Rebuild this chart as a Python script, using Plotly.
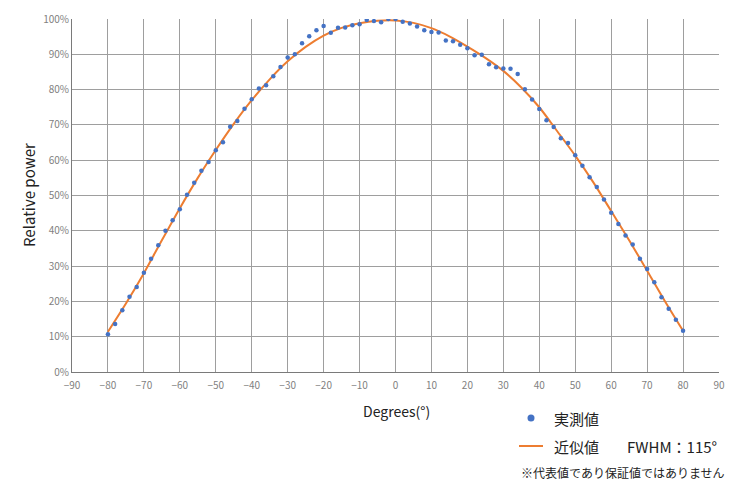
import plotly.graph_objects as go

# measured points (degrees, relative power %)
meas_deg = list(range(-80, 81, 2))
meas_pct = [10.7, 13.6, 17.5, 21.3, 24.1, 28.1, 32.1, 35.9, 40.0, 43.0,
            46.1, 50.2, 53.6, 57.0, 59.5, 62.8, 65.1, 69.5, 71.1, 74.6,
            77.3, 80.3, 81.2, 83.8, 86.4, 89.1, 90.0, 93.1, 95.1, 96.8,
            98.0, 96.1, 97.5, 97.6, 98.2, 98.5, 99.7, 99.4, 99.1, 100.0,
            100.0, 99.2, 98.7, 97.9, 96.8, 96.3, 96.2, 93.9, 93.7, 92.7,
            91.7, 89.7, 89.9, 87.2, 86.3, 86.0, 85.9, 84.4, 80.1, 77.2,
            74.5, 71.3, 69.4, 66.2, 64.9, 61.4, 58.4, 55.2, 52.4, 48.9,
            45.1, 41.9, 38.7, 36.1, 32.1, 29.2, 25.4, 21.2, 17.9, 14.8, 11.7]

# approximation curve (degrees, %)
fit_deg = list(range(-80, 81, 5))
fit_pct = [11.4, 19.4, 28.0, 37.3, 46.4, 55.0, 62.9, 70.3, 77.0, 82.9,
           88.0, 92.1, 95.3, 97.5, 98.8, 99.5, 99.6, 98.9, 97.4, 95.1,
           92.2, 89.0, 85.3, 80.6, 75.0, 68.2, 61.3, 53.8, 45.6, 37.3,
           28.7, 20.0, 11.7]

x_ticks = list(range(-90, 91, 10))
y_ticks = list(range(0, 101, 10))
y_tick_labels = [f"{v}%" for v in y_ticks]

BLUE = "#4472C4"
ORANGE = "#ED7D31"
GRID = "#9e9e9e"
FONT = "Noto Sans CJK JP"

fig = go.Figure()
fig.add_trace(go.Scatter(x=fit_deg, y=fit_pct, mode="lines",
                         line=dict(color=ORANGE, width=2, shape="spline", smoothing=0.8),
                         name="近似値", hoverinfo="skip"))
fig.add_trace(go.Scatter(x=meas_deg, y=meas_pct, mode="markers",
                         marker=dict(color=BLUE, size=4.5), name="実測値"))

L, R, T, B = 72, 31, 19, 123
W, H = 750, 495
pw, ph = W - L - R, H - T - B

def px(x):
    return (x - L) / pw

def py(y):
    return (H - B - y) / ph

fig.update_layout(
    width=W, height=H,
    margin=dict(l=L, r=R, t=T, b=B),
    paper_bgcolor="white", plot_bgcolor="white",
    showlegend=False,
    font=dict(family=FONT, color="#404040"),
    xaxis=dict(range=[-90, 90], tickvals=x_ticks, showgrid=True, gridcolor=GRID,
               gridwidth=1, zeroline=False, showline=True, linecolor="#7a7a7a",
               linewidth=1, ticks="", automargin=False, ticklabelstandoff=4,
               tickfont=dict(size=10, color="#7f7f7f")),
    yaxis=dict(range=[0, 100], tickvals=y_ticks, ticktext=y_tick_labels, showgrid=True,
               gridcolor=GRID, gridwidth=1, zeroline=False, showline=True,
               linecolor="#7a7a7a", linewidth=1, ticks="", automargin=False,
               tickfont=dict(size=10, color="#7f7f7f")),
)

# axis titles
fig.add_annotation(xref="paper", yref="paper", x=px(396), y=py(411), text="Degrees(°)",
                   showarrow=False, xanchor="center", yanchor="middle",
                   font=dict(size=14, color="#222222"))
fig.add_annotation(xref="paper", yref="paper", x=px(28), y=py(195), text="Relative power",
                   showarrow=False, xanchor="center", yanchor="middle", textangle=-90,
                   font=dict(size=15, color="#222222"))

# legend drawn manually
fig.add_shape(type="circle", xref="paper", yref="paper",
              x0=px(527.5), x1=px(534.5), y0=py(421.5), y1=py(414.5),
              fillcolor=BLUE, line=dict(width=0))
fig.add_shape(type="line", xref="paper", yref="paper",
              x0=px(519), x1=px(543), y0=py(446), y1=py(446),
              line=dict(color=ORANGE, width=2))
fig.add_annotation(xref="paper", yref="paper", x=px(552), y=py(418), text="実測値",
                   showarrow=False, xanchor="left", yanchor="middle",
                   font=dict(size=15, color="#222222"))
fig.add_annotation(xref="paper", yref="paper", x=px(552), y=py(446), text="近似値",
                   showarrow=False, xanchor="left", yanchor="middle",
                   font=dict(size=15, color="#222222"))
fig.add_annotation(xref="paper", yref="paper", x=px(625), y=py(446), text="FWHM：115°",
                   showarrow=False, xanchor="left", yanchor="middle",
                   font=dict(size=15, color="#222222"))
fig.add_annotation(xref="paper", yref="paper", x=px(727), y=py(472),
                   text="※代表値であり保証値ではありません",
                   showarrow=False, xanchor="right", yanchor="middle",
                   font=dict(size=12, color="#222222"))

fig.write_html("out.html", config={"displayModeBar": False},
               post_script="document.body.style.margin='0px';")
